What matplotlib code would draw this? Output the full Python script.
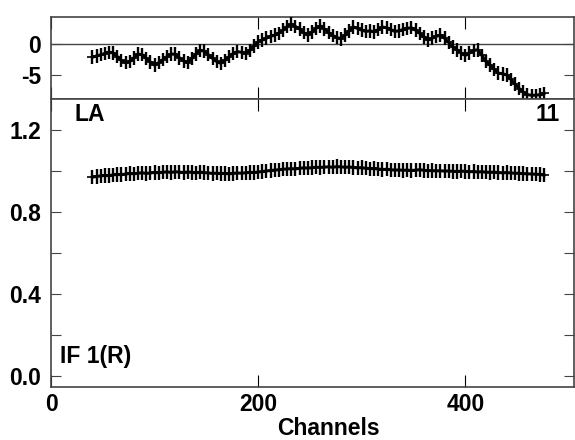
import numpy as np
import matplotlib
matplotlib.use("Agg")
import matplotlib.pyplot as plt
from matplotlib.ticker import MultipleLocator

plt.rcParams["font.family"] = ["Liberation Sans", "DejaVu Sans"]
plt.rcParams["font.weight"] = "bold"

# ---- data ----
channels = list(range(40, 477, 4))

phase = [
    -2.1, -1.9, -1.7, -1.5, -1.3, -1.4, -2.0, -2.6, -3.0, -2.8,
    -2.2, -1.6, -1.7, -2.3, -2.9, -3.4, -3.0, -2.5, -2.0, -1.6,
    -1.6, -2.2, -2.7, -3.0, -2.3, -1.6, -1.0, -1.1, -1.7, -2.3,
    -2.8, -3.1, -2.6, -2.0, -1.5, -1.2, -1.3, -1.5, -1.0, -0.3,
    0.4, 0.7, 1.0, 1.3, 1.5, 1.8, 2.3, 2.9, 3.3, 2.9,
    2.5, 1.9, 1.5, 2.0, 2.6, 3.0, 2.5, 1.9, 1.4, 1.1,
    0.9, 1.5, 2.2, 2.8, 2.6, 2.3, 2.1, 2.2, 2.0, 2.4,
    2.8, 2.7, 2.4, 2.1, 2.2, 2.4, 2.6, 2.7, 2.3, 1.8,
    1.2, 0.7, 1.0, 1.3, 1.5, 1.0, 0.3, -0.4, -0.9, -1.4,
    -1.8, -1.4, -1.0, -0.9, -1.8, -2.8, -3.4, -4.1, -4.7, -4.8,
    -5.0, -5.7, -6.5, -7.2, -7.8, -8.2, -8.3, -8.3, -8.2, -8.0,
]

amp = [
    0.972, 0.975, 0.978, 0.980, 0.979, 0.983, 0.985, 0.984, 0.987, 0.990,
    0.988, 0.991, 0.993, 0.990, 0.992, 0.995, 0.993, 0.996, 0.997, 0.995,
    0.998, 0.996, 0.994, 0.997, 0.995, 0.993, 0.996, 0.994, 0.992, 0.990,
    0.991, 0.989, 0.990, 0.988, 0.990, 0.992, 0.991, 0.993, 0.995, 0.994,
    0.997, 0.999, 1.002, 1.004, 1.006, 1.008, 1.010, 1.012, 1.013, 1.012,
    1.015, 1.017, 1.016, 1.018, 1.020, 1.019, 1.021, 1.022, 1.020, 1.023,
    1.022, 1.020, 1.021, 1.019, 1.017, 1.018, 1.015, 1.013, 1.014, 1.011,
    1.009, 1.010, 1.008, 1.006, 1.007, 1.005, 1.006, 1.004, 1.006, 1.008,
    1.005, 1.003, 1.004, 1.002, 1.003, 1.001, 1.002, 1.000, 0.999, 1.001,
    1.000, 0.998, 0.999, 0.997, 0.998, 0.996, 0.995, 0.996, 0.994, 0.993,
    0.994, 0.992, 0.991, 0.990, 0.989, 0.988, 0.987, 0.986, 0.985, 0.982,
]

phase_err = 1.1
amp_err = 0.035

baseline = "LA"
scan_no = "11"
if_label = "IF 1(R)"
# ----------------------------------------

SPINE = "#444444"
FS = 16.5

fig = plt.figure(figsize=(5.75, 4.4), dpi=100)
ax_ph = fig.add_axes([0.0887, 0.775, 0.9096, 0.1857])
ax_amp = fig.add_axes([0.0887, 0.1205, 0.9096, 0.6545])

for ax in (ax_ph, ax_amp):
    for sp in ax.spines.values():
        sp.set_color(SPINE)
        sp.set_linewidth(1.2)
    ax.set_xlim(0, 505)
    ax.xaxis.set_major_locator(MultipleLocator(200))
    ax.tick_params(axis="x", which="both", direction="in", top=True,
                   bottom=True, length=8.5, width=0.8, color="k")
    ax.tick_params(axis="y", which="both", direction="in", left=True,
                   right=True, length=7, width=0.8, color=SPINE)
    ax.tick_params(labelsize=FS, pad=7)

# phase panel
ax_ph.axhline(0, color=SPINE, lw=1.0, zorder=1)
ax_ph.errorbar(channels, phase, yerr=phase_err, fmt="+-", color="k",
               ms=7, mew=1.2, lw=2.2, elinewidth=1.7, capsize=0, zorder=3)
ax_ph.set_ylim(-8.91, 4.40)
ax_ph.set_yticks([-5, 0])
ax_ph.set_yticklabels(["-5", "0"])
ax_ph.tick_params(axis="x", labelbottom=False)

# amplitude panel
ax_amp.errorbar(channels, amp, yerr=amp_err, fmt="+-", color="k",
                ms=7, mew=1.2, lw=2.2, elinewidth=1.7, capsize=0, zorder=3)
ax_amp.set_ylim(-0.052, 1.353)
ax_amp.yaxis.set_major_locator(MultipleLocator(0.4))
ax_amp.yaxis.set_minor_locator(MultipleLocator(0.2))
ax_amp.yaxis.set_major_formatter(plt.FormatStrFormatter("%.1f"))
ax_amp.tick_params(axis="x", pad=4)
ax_amp.set_xlabel("Channels", fontsize=FS, fontweight="bold", labelpad=0)
ax_amp.xaxis.set_label_coords(0.53, -0.105)

ax_amp.text(0.044, 0.945, baseline, transform=ax_amp.transAxes,
            fontsize=FS, fontweight="bold", ha="left", va="center")
ax_amp.text(0.972, 0.945, scan_no, transform=ax_amp.transAxes,
            fontsize=FS, fontweight="bold", ha="right", va="center")
ax_amp.text(0.018, 0.105, if_label, transform=ax_amp.transAxes,
            fontsize=FS, fontweight="bold", ha="left", va="center")

fig.savefig("out.png", dpi=100)
